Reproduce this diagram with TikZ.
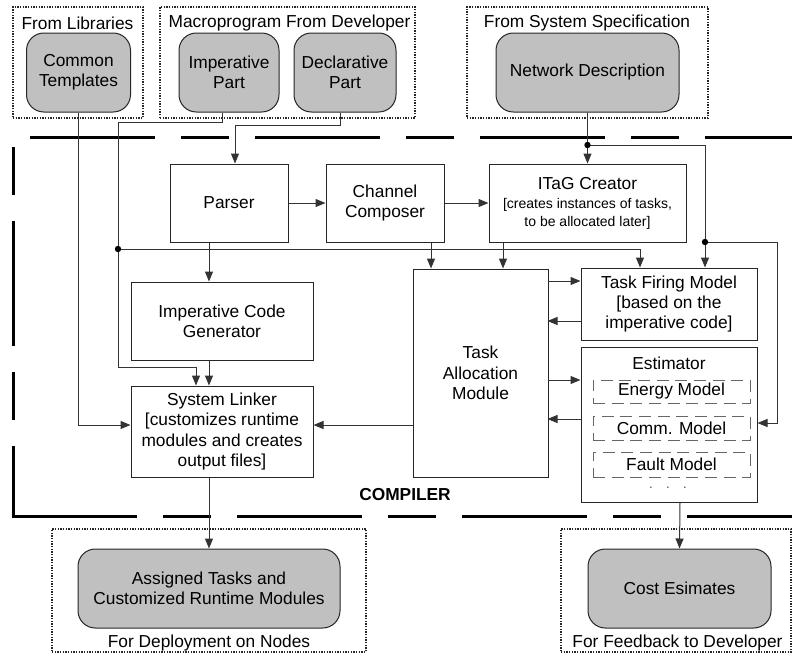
\documentclass[tikz,border=0pt]{standalone}
\usepackage{fontspec}
\setmainfont{Liberation Sans}
\usetikzlibrary{arrows.meta,calc}
\definecolor{srcgray}{RGB}{192,192,192}
\newcommand{\smallfnt}{\fontsize{10.5}{12.5}\selectfont}
\tikzset{
  mainfnt/.style={font=\fontsize{13}{15.3}\selectfont},
  box/.style={draw=black!85, line width=0.75pt, fill=white, align=center, inner sep=0pt, mainfnt},
  srcbox/.style={box, fill=srcgray, rounded corners=13pt},
  grpbox/.style={draw=black!85, line width=0.8pt, dash pattern=on 1pt off 1pt, inner sep=0pt},
  modelbox/.style={draw=black!60, line width=0.75pt, dash pattern=on 9pt off 5pt, inner sep=0pt, align=center, mainfnt},
  wire/.style={draw=black!80, line width=0.75pt},
  arrowline/.style={wire, -{Triangle[length=7.5pt,width=6pt]}},
  titletext/.style={inner sep=0pt, mainfnt},
  compline/.style={line width=2.25pt, dash pattern=on 93.75pt off 19.5pt on 36pt off 19.5pt},
}
\begin{document}
\begin{tikzpicture}[x=0.75pt,y=-0.75pt]
\useasboundingbox (0,0) rectangle (792,661);

% top groups
\node[grpbox, minimum width=97.5pt, minimum height=83.25pt] (glib) at (78,62.5) {};
\node[titletext] (tlib) at (77.5,23) {From Libraries};
\node[grpbox, minimum width=191.25pt, minimum height=83.25pt] (gdev) at (287.5,62.5) {};
\node[titletext] (tdev) at (289.5,23) {Macroprogram From Developer};
\node[grpbox, minimum width=180.75pt, minimum height=83.25pt] (gspec) at (587.5,62.5) {};
\node[titletext] (tspec) at (587,23) {From System Specification};

\node[srcbox, minimum width=78pt, minimum height=59.25pt] (ct) at (78.5,72.5) {Common\\Templates};
\node[srcbox, minimum width=75pt, minimum height=59.25pt] (imp) at (229,72.5) {Imperative\\Part};
\node[srcbox, minimum width=76.5pt, minimum height=59.25pt] (dec) at (345,72.5) {Declarative\\Part};
\node[srcbox, minimum width=137.25pt, minimum height=59.25pt] (nd) at (587.5,72.5) {Network Description};

% compiler border
\draw[compline] (30,137) -- (792,137);
\draw[compline, dash phase=113.25pt] (13,147) -- (13,517.1);
\draw[compline] (11.9,516) -- (792,516);
\node[inner sep=0pt, font=\fontsize{13}{15}\selectfont\bfseries] (comp) at (405,495) {COMPILER};

% compiler boxes
\node[box, minimum width=88.5pt, minimum height=58.5pt] (parser) at (229,203) {Parser};
\node[box, minimum width=88.5pt, minimum height=58.5pt] (cc) at (385,203) {Channel\\Composer};
\node[box, minimum width=147.75pt, minimum height=58.5pt] (itag) at (587.5,203)
  {ITaG Creator\\[-0.5pt]{\smallfnt [creates instances of tasks,}\\[-2.5pt]{\smallfnt to be allocated later]}};
\node[box, minimum width=136.5pt, minimum height=58.5pt] (icg) at (222,321) {Imperative Code\\Generator};
\node[box, minimum width=136.5pt, minimum height=68.25pt] (sl) at (222,431.5)
  {System Linker\\{[}customizes runtime\\modules and creates\\output files]};
\node[box, minimum width=101.25pt, minimum height=156pt] (tam) at (480.5,373) {Task\\Allocation\\Module};
\node[box, minimum width=132pt, minimum height=54pt] (tfm) at (669,304) {Task Firing Model\\{[}based on the\\imperative code]};
\node[box, minimum width=132pt, minimum height=116.25pt] (est) at (669,424.5) {};
\node[titletext] (estt) at (669,363) {Estimator};
\node[modelbox, minimum width=117.75pt, minimum height=17.25pt] (energy) at (671.5,391.5) {Energy Model};
\node[modelbox, minimum width=117.75pt, minimum height=18pt] (comm) at (671.5,428) {Comm. Model};
\node[modelbox, minimum width=117.75pt, minimum height=18.75pt] (fault) at (671.5,464.5) {Fault Model};
\node[inner sep=0pt, text=black!70, font=\fontsize{10}{12}\selectfont] (more) at (668,488) {.\hspace{10pt}.\hspace{10pt}.};

% bottom groups
\node[grpbox, minimum width=235.5pt, minimum height=92.25pt] (gdep) at (209,590.5) {};
\node[srcbox, minimum width=196.5pt, minimum height=59.25pt] (at) at (209,588.5) {Assigned Tasks and\\Customized Runtime Modules};
\node[titletext] (tdep) at (209,643) {For Deployment on Nodes};
\node[grpbox, minimum width=172.5pt, minimum height=92.25pt] (gfb) at (676,590.5) {};
\node[srcbox, minimum width=137.25pt, minimum height=59.25pt] (cost) at (679.5,588.5) {Cost Esimates};
\node[titletext] (tfb) at (677.5,643) {For Feedback to Developer};

% junctions
\coordinate (d1) at (118,249);
\coordinate (d2) at (587.5,145);
\coordinate (d3) at (705,242);

% connectors
\draw[arrowline] (ct.south) |- ($(sl.west)+(0,-6.5)$);
\draw[wire] ($(imp.south)+(-7,0)$) -- ++(0,10) -| (d1);
\draw[arrowline] (d1) -- (118,367) -| ($(sl.north)+(-26,0)$);
\draw[arrowline] (d1) -| ($(tfm.north)+(-29,0)$);
\draw[arrowline] ($(dec.south)+(-5,0)$) -- ++(0,13) -| ($(parser.north)+(6,0)$);
\draw[arrowline] (nd.south) -- (itag.north);
\draw[wire] (d2) -| (d3);
\draw[arrowline] (d3) -- ($(tfm.north)+(36,0)$);
\draw[arrowline] (d3) -- (777,242) |- ($(est.east)+(0,-1.5)$);

\draw[arrowline] (parser.east) -- (cc.west);
\draw[arrowline] (cc.east) -- (itag.west);
\draw[arrowline] ($(parser.south)+(-20,0)$) -- ($(icg.north)+(-13,0)$);
\draw[arrowline] ($(cc.south)+(46,0)$) -- ($(tam.north)+(-49.5,0)$);
\draw[arrowline] ($(itag.south)+(-84.5,0)$) -- ($(tam.north)+(22.5,0)$);

\draw[arrowline] ($(tfm.west)+(-33,-23)$) -- ($(tfm.west)+(0,-23)$);
\draw[arrowline] ($(tfm.west)+(0,17)$) -- ($(tfm.west)+(-33,17)$);
\draw[arrowline] ($(est.west)+(-33,-44.5)$) -- ($(est.west)+(0,-44.5)$);
\draw[arrowline] ($(est.west)+(0,-5.5)$) -- ($(est.west)+(-33,-5.5)$);
\draw[arrowline] ($(tam.west)+(0,52)$) -- ($(sl.east)+(0,-6.5)$);
\draw[arrowline] ($(icg.south)+(-13,0)$) -- ($(sl.north)+(-13,0)$);
\draw[arrowline] ($(sl.south)+(-13,0)$) -- (at.north);
\draw[arrowline] ($(est.south)+(11,0)$) -- (cost.north);

\fill[black] (d1) circle (3.2);
\fill[black] (d2) circle (3.2);
\fill[black] (d3) circle (3.2);
\end{tikzpicture}
\end{document}
